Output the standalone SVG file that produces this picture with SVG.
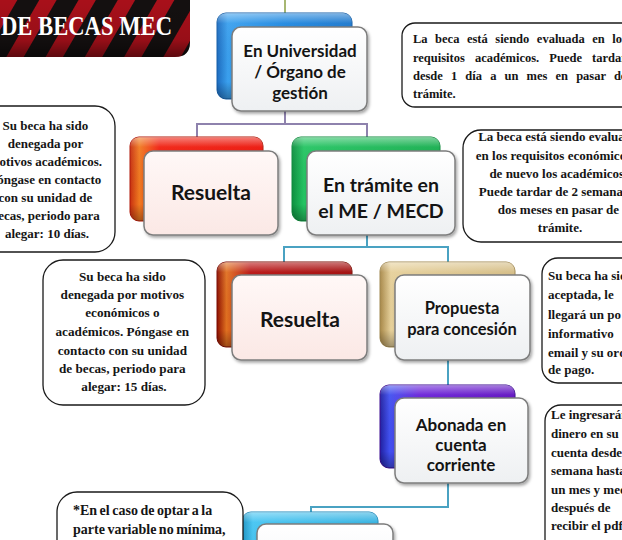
<svg xmlns="http://www.w3.org/2000/svg" width="622" height="540" viewBox="0 0 622 540">
<defs>
  <filter id="sh" x="-10%" y="-10%" width="130%" height="130%">
    <feDropShadow dx="1.5" dy="2" stdDeviation="1.5" flood-color="#000" flood-opacity="0.35"/>
  </filter>
  <linearGradient id="gloss" x1="0" y1="0" x2="0" y2="1">
    <stop offset="0" stop-color="#fff" stop-opacity="0.45"/>
    <stop offset="0.12" stop-color="#fff" stop-opacity="0.05"/>
    <stop offset="0.8" stop-color="#000" stop-opacity="0"/>
    <stop offset="1" stop-color="#000" stop-opacity="0.3"/>
  </linearGradient>
  <linearGradient id="bBlue" x1="0" x2="1"><stop offset="0" stop-color="#1d6cc0"/><stop offset="0.08" stop-color="#3aa0ee"/><stop offset="0.5" stop-color="#1f88e0"/><stop offset="1" stop-color="#1a76cc"/></linearGradient>
  <linearGradient id="bRed" x1="0" x2="1"><stop offset="0" stop-color="#c83010"/><stop offset="0.07" stop-color="#f07a20"/><stop offset="0.22" stop-color="#f02010"/><stop offset="1" stop-color="#ec140a"/></linearGradient>
  <linearGradient id="bGreen" x1="0" x2="1"><stop offset="0" stop-color="#0e9040"/><stop offset="0.08" stop-color="#24c462"/><stop offset="1" stop-color="#16ae4e"/></linearGradient>
  <linearGradient id="bDred" x1="0" x2="1"><stop offset="0" stop-color="#901000"/><stop offset="0.07" stop-color="#e07020"/><stop offset="0.25" stop-color="#b81010"/><stop offset="1" stop-color="#a00808"/></linearGradient>
  <linearGradient id="bGold" x1="0" x2="1"><stop offset="0" stop-color="#a88848"/><stop offset="0.08" stop-color="#e6d09a"/><stop offset="1" stop-color="#d4bc84"/></linearGradient>
  <linearGradient id="bPurple" x1="0" x2="1"><stop offset="0" stop-color="#2020a0"/><stop offset="0.07" stop-color="#4050f0"/><stop offset="0.3" stop-color="#6a20d8"/><stop offset="1" stop-color="#6010c0"/></linearGradient>
  <linearGradient id="bCyan" x1="0" x2="1"><stop offset="0" stop-color="#1890c0"/><stop offset="0.08" stop-color="#44c4f2"/><stop offset="1" stop-color="#30b0e0"/></linearGradient>
  <linearGradient id="fWhite" x1="0" y1="0" x2="0" y2="1"><stop offset="0" stop-color="#ffffff"/><stop offset="1" stop-color="#eef0f2"/></linearGradient>
  <linearGradient id="fPink" x1="0" y1="0" x2="0" y2="1"><stop offset="0" stop-color="#fff8f7"/><stop offset="1" stop-color="#fbe8e5"/></linearGradient>
  <linearGradient id="banShade" x1="0" y1="0" x2="0" y2="1"><stop offset="0" stop-color="#000" stop-opacity="0"/><stop offset="0.7" stop-color="#000" stop-opacity="0.1"/><stop offset="1" stop-color="#000" stop-opacity="0.45"/></linearGradient>
  <pattern id="stripes" patternUnits="userSpaceOnUse" width="34" height="34" patternTransform="rotate(30)">
    <rect width="34" height="34" fill="#141010"/>
    <rect width="15" height="34" fill="#a8101a"/>
  </pattern>
  <style>
    .front{stroke:#7d7d7d;stroke-width:1.5;filter:url(#sh)}
    .back{stroke-width:1}
    .lbl{font-family:Lato,"Liberation Sans",sans-serif;font-weight:700;fill:#141414;text-anchor:middle}
    .box{fill:#fff;stroke:#1a1a1a;stroke-width:1.3}
    .ct{font-family:"Liberation Serif","Times New Roman",serif;font-weight:700;fill:#151515}
    .c{text-anchor:middle}
    .con{fill:none;stroke-width:2}
  </style>
</defs>
<rect width="622" height="540" fill="#ffffff"/>

<g id="banner">
  <path d="M0,0 H190 V42 Q190,57 175,57 H0 Z" fill="url(#stripes)"/>
  <path d="M0,0 H190 V42 Q190,57 175,57 H0 Z" fill="url(#banShade)"/>
  <text x="1" y="35" font-family="'Liberation Serif',serif" font-weight="700" font-size="27" fill="#fff" textLength="171" lengthAdjust="spacingAndGlyphs">DE BECAS MEC</text>
</g>

<g id="connectors">
  <path class="con" d="M285,0 V14" stroke="#a7b772"/>
  <path class="con" d="M285,110 V124 M197,137 V124 H367 V137" stroke="#8e82ad"/>
  <path class="con" d="M367,235 V247 M284,263 V247 H448 V263" stroke="#4aa2c2"/>
  <path class="con" d="M448,360 V385" stroke="#4aa2c2"/>
  <path class="con" d="M448,483 V507 H311 V513" stroke="#4aa2c2"/>
</g>

<g id="n1">
  <rect class="back" x="217" y="13" width="135" height="86" rx="9" fill="url(#bBlue)" stroke="#155fa8"/>
  <rect x="217" y="13" width="135" height="86" rx="9" fill="url(#gloss)"/>
  <rect class="front" x="232" y="27" width="135" height="84" rx="9" fill="url(#fWhite)"/>
  <text class="lbl" font-size="17"><tspan x="300" y="57">En Universidad</tspan><tspan x="300" y="78">/ Órgano de</tspan><tspan x="300" y="99">gestión</tspan></text>
</g>

<g id="n2">
  <rect class="back" x="130" y="137" width="133" height="84" rx="9" fill="url(#bRed)" stroke="#b01808"/>
  <rect x="130" y="137" width="133" height="84" rx="9" fill="url(#gloss)"/>
  <rect class="front" x="144" y="151" width="134" height="84" rx="9" fill="url(#fPink)"/>
  <text class="lbl" font-size="21" x="211" y="200">Resuelta</text>
</g>

<g id="n3">
  <rect class="back" x="292" y="137" width="148" height="84" rx="9" fill="url(#bGreen)" stroke="#0e8a3c"/>
  <rect x="292" y="137" width="148" height="84" rx="9" fill="url(#gloss)"/>
  <rect class="front" x="307" y="151" width="148" height="84" rx="9" fill="url(#fWhite)"/>
  <text class="lbl" font-size="19.5"><tspan x="381" y="192">En trámite en</tspan><tspan x="381" y="218">el ME / MECD</tspan></text>
</g>

<g id="n4">
  <rect class="back" x="217" y="262" width="135" height="85" rx="9" fill="url(#bDred)" stroke="#7a0a00"/>
  <rect x="217" y="262" width="135" height="85" rx="9" fill="url(#gloss)"/>
  <rect class="front" x="232" y="275" width="135" height="85" rx="9" fill="url(#fPink)"/>
  <text class="lbl" font-size="21" x="300" y="327">Resuelta</text>
</g>

<g id="n5">
  <rect class="back" x="380" y="262" width="135" height="85" rx="9" fill="url(#bGold)" stroke="#a08850"/>
  <rect x="380" y="262" width="135" height="85" rx="9" fill="url(#gloss)"/>
  <rect class="front" x="395" y="275" width="135" height="85" rx="9" fill="url(#fWhite)"/>
  <text class="lbl" font-size="16.5"><tspan x="462" y="314">Propuesta</tspan><tspan x="462" y="335">para concesión</tspan></text>
</g>

<g id="n6">
  <rect class="back" x="380" y="385" width="135" height="83" rx="9" fill="url(#bPurple)" stroke="#3a0a90"/>
  <rect x="380" y="385" width="135" height="83" rx="9" fill="url(#gloss)"/>
  <rect class="front" x="395" y="398" width="133" height="85" rx="9" fill="url(#fWhite)"/>
  <text class="lbl" font-size="17"><tspan x="461" y="431">Abonada en</tspan><tspan x="461" y="451">cuenta</tspan><tspan x="461" y="471">corriente</tspan></text>
</g>

<g id="n7">
  <rect class="back" x="242" y="512" width="136" height="86" rx="9" fill="url(#bCyan)" stroke="#1a86b8"/>
  <rect x="242" y="512" width="136" height="86" rx="9" fill="url(#gloss)"/>
  <rect class="front" x="257" y="524" width="136" height="86" rx="9" fill="url(#fWhite)"/>
</g>

<g id="c1">
  <rect class="box" x="402" y="23" width="240" height="84" rx="13"/>
  <text class="ct" font-size="12.5">
    <tspan x="413" y="43" word-spacing="4.4">La beca está siendo evaluada en los</tspan>
    <tspan x="413" y="62" word-spacing="7">requisitos académicos. Puede tardar</tspan>
    <tspan x="413" y="80" word-spacing="5">desde 1 día a un mes en pasar de</tspan>
    <tspan x="413" y="98">trámite.</tspan>
  </text>
</g>

<g id="c2">
  <rect class="box" x="-40" y="106" width="155" height="146" rx="20"/>
  <text class="ct c" font-size="13">
    <tspan x="47" y="130">Su beca ha sido</tspan>
    <tspan x="47" y="148">denegada por</tspan>
    <tspan x="47" y="166">motivos académicos.</tspan>
    <tspan x="47" y="184">Póngase en contacto</tspan>
    <tspan x="47" y="202">con su unidad de</tspan>
    <tspan x="47" y="220">becas, periodo para</tspan>
    <tspan x="47" y="238">alegar: 10 días.</tspan>
  </text>
</g>

<g id="c3">
  <rect class="box" x="463" y="130" width="200" height="112" rx="18"/>
  <text class="ct c" font-size="13">
    <tspan x="560" y="141">La beca está siendo evaluada</tspan>
    <tspan x="560" y="160">en los requisitos económicos y</tspan>
    <tspan x="560" y="178">de nuevo los académicos.</tspan>
    <tspan x="560" y="196">Puede tardar de 2 semanas a</tspan>
    <tspan x="560" y="214">dos meses en pasar de</tspan>
    <tspan x="560" y="232">trámite.</tspan>
  </text>
</g>

<g id="c4">
  <rect class="box" x="43" y="260" width="162" height="145" rx="20"/>
  <text class="ct c" font-size="13.2">
    <tspan x="124" y="281">Su beca ha sido</tspan>
    <tspan x="124" y="299">denegada por motivos</tspan>
    <tspan x="124" y="317">económicos o</tspan>
    <tspan x="124" y="336">académicos. Póngase en</tspan>
    <tspan x="124" y="355">contacto con su unidad</tspan>
    <tspan x="124" y="373">de becas, periodo para</tspan>
    <tspan x="124" y="391">alegar: 15 días.</tspan>
  </text>
</g>

<g id="c5">
  <rect class="box" x="542" y="258" width="110" height="125" rx="16"/>
  <text class="ct" font-size="13">
    <tspan x="548" y="280">Su beca ha sido</tspan>
    <tspan x="548" y="299">aceptada, le</tspan>
    <tspan x="548" y="319">llegará un po</tspan>
    <tspan x="548" y="338">informativo</tspan>
    <tspan x="548" y="357">email y su orden</tspan>
    <tspan x="548" y="374">de pago.</tspan>
  </text>
</g>

<g id="c6">
  <rect class="box" x="545" y="405" width="110" height="160" rx="16"/>
  <text class="ct" font-size="13">
    <tspan x="551" y="419">Le ingresarán</tspan>
    <tspan x="551" y="438">dinero en su</tspan>
    <tspan x="551" y="457">cuenta desde</tspan>
    <tspan x="551" y="475">semana hasta</tspan>
    <tspan x="551" y="494">un mes y medio</tspan>
    <tspan x="551" y="512">después de</tspan>
    <tspan x="551" y="530">recibir el pdf</tspan>
  </text>
</g>

<g id="c7">
  <rect class="box" x="57" y="492" width="186" height="80" rx="20"/>
  <text class="ct" font-size="14" word-spacing="-1">
    <tspan x="73" y="515">*En el caso de optar a la</tspan>
    <tspan x="73" y="534">parte variable no mínima,</tspan>
  </text>
</g>
</svg>
